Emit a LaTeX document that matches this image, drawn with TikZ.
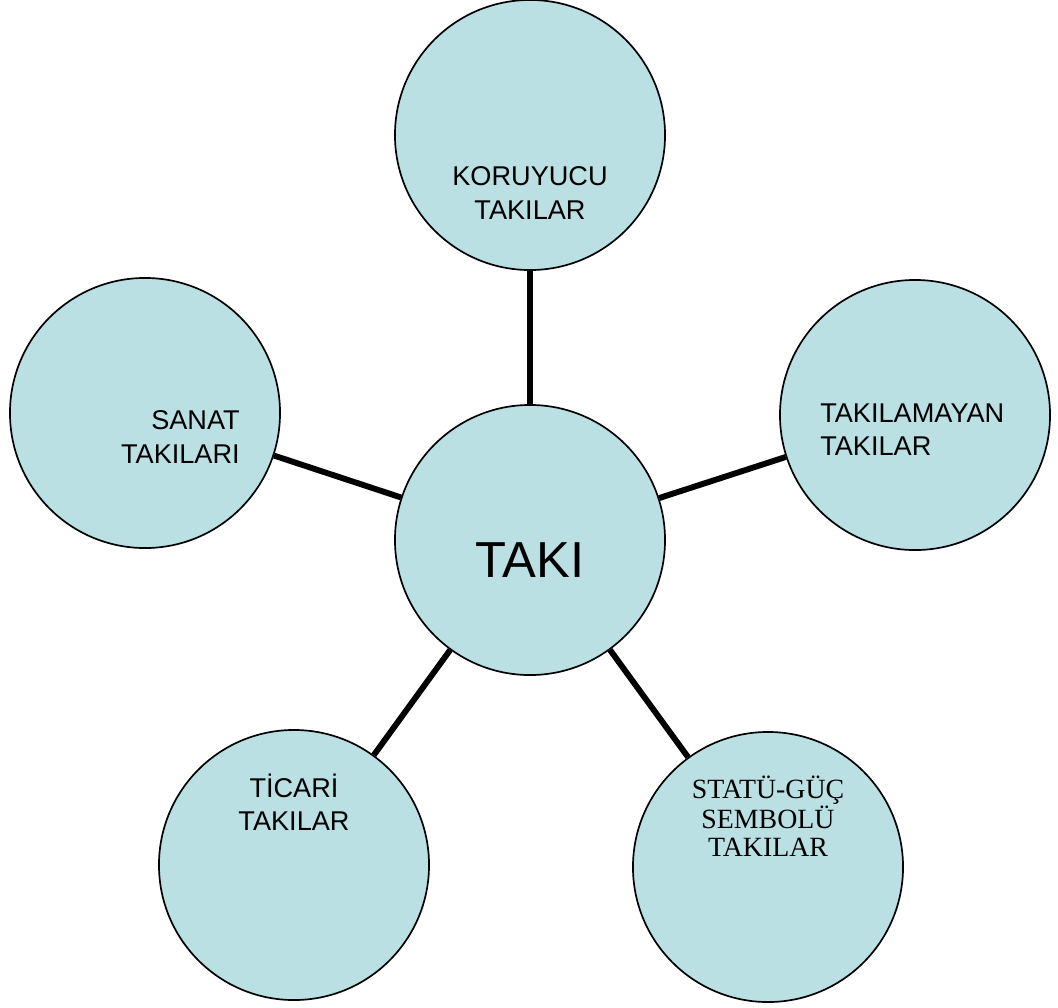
\documentclass[tikz,border=0pt]{standalone}
\usepackage{fontspec}
\setmainfont{Liberation Sans}
\newfontfamily\serifTR{Liberation Serif}
\usetikzlibrary{positioning}
\definecolor{takiblue}{RGB}{186,224,227}
\tikzset{%
    disc/.style={%
        circle, draw=black, line width=1.2pt, fill=takiblue, minimum size=6.75cm, inner sep=0pt
    },
    caption/.style={%
        align=center, inner sep=0pt, font=\fontsize{19.3}{23.5}\selectfont
    },
    serifcaption/.style={%
        align=center, inner sep=0pt, font=\serifTR\fontsize{19.8}{19.6}\selectfont
    },
    spoke/.style={%
        line width=4.2pt
    },
}

\begin{document}
\begin{tikzpicture}[x=0.025cm,y=-0.025cm]
      \useasboundingbox (0,0) rectangle (1058,1007);
      \node[disc] (taki) at (530,540) {};
      \node[disc] (koruyucu) at (530,135) {};
      \node[disc] (takilamayan) at (915,415) {};
      \node[disc] (sanat) at (145,413) {};
      \node[disc] (ticari) at (294,865) {};
      \node[disc] (statu) at (768,867) {};

      \draw[spoke] (taki) -- (koruyucu);
      \draw[spoke] (taki) -- (takilamayan);
      \draw[spoke] (taki) -- (sanat);
      \draw[spoke] (taki) -- (ticari);
      \draw[spoke] (taki) -- (statu);

      \node[caption, font=\fontsize{36}{40}\selectfont] (takiText) at (530,560) {TAKI};
      \node[caption] (koruyucuText) at (530,193) {KORUYUCU\\TAKILAR};
      \node[caption, align=left, anchor=west] (takilamayanText) at (820,430) {TAKILAMAYAN\\TAKILAR};
      \node[caption, align=right, anchor=east] (sanatText) at (240,437) {SANAT\\TAKILARI};
      \node[caption] (ticariText) at (294,802) {TİCARİ\\TAKILAR};
      \node[serifcaption] (statuText) at (768,816) {STATÜ-GÜÇ\\SEMBOLÜ\\TAKILAR};
\end{tikzpicture}
\end{document}
